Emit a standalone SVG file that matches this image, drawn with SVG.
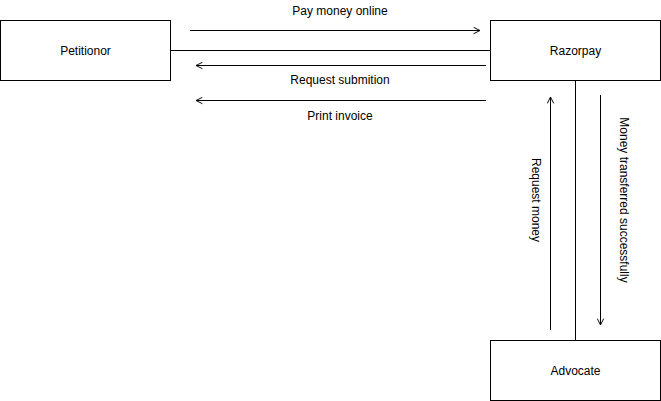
<svg xmlns="http://www.w3.org/2000/svg" width="661" height="401" viewBox="0 0 661 401">
<style>
.box{fill:#fff;stroke:#000;stroke-width:1}
.ln{fill:none;stroke:#000;stroke-width:1}
text{font-family:"Liberation Sans",Arial,sans-serif;font-size:12px;fill:#000}
</style>
<defs>
<marker id="open" viewBox="0 0 10 10" refX="9" refY="5" markerWidth="8" markerHeight="8" markerUnits="userSpaceOnUse" orient="auto">
<path d="M1,1 L9,5 L1,9" fill="none" stroke="#000" stroke-width="1.2"/>
</marker>
</defs>
<rect width="661" height="401" fill="#fff"/>
<g id="connectors">
<line class="ln" x1="170" y1="50.5" x2="490" y2="50.5"/>
<line class="ln" x1="575.5" y1="80" x2="575.5" y2="340"/>
<line class="ln" x1="190" y1="30.5" x2="480" y2="30.5" marker-end="url(#open)"/>
<text x="340" y="15" text-anchor="middle">Pay money online</text>
<line class="ln" x1="486" y1="65.5" x2="196" y2="65.5" marker-end="url(#open)"/>
<text x="340" y="84" text-anchor="middle">Request submition</text>
<line class="ln" x1="486" y1="100.5" x2="196" y2="100.5" marker-end="url(#open)"/>
<text x="340" y="120" text-anchor="middle">Print invoice</text>
<line class="ln" x1="550.5" y1="330" x2="550.5" y2="97" marker-end="url(#open)"/>
<text transform="translate(532,200) rotate(90)" text-anchor="middle">Request money</text>
<line class="ln" x1="600.5" y1="95" x2="600.5" y2="325" marker-end="url(#open)"/>
<text transform="translate(620,200) rotate(90)" text-anchor="middle">Money transferred successfully</text>
</g>
<g id="petitionor">
<rect class="box" x="0.5" y="20.5" width="170" height="60"/>
<text x="85.5" y="55" text-anchor="middle">Petitionor</text>
</g>
<g id="razorpay">
<rect class="box" x="490.5" y="20.5" width="170" height="60"/>
<text x="575.5" y="55" text-anchor="middle">Razorpay</text>
</g>
<g id="advocate">
<rect class="box" x="490.5" y="340.5" width="170" height="60"/>
<text x="575.5" y="375" text-anchor="middle">Advocate</text>
</g>
</svg>
